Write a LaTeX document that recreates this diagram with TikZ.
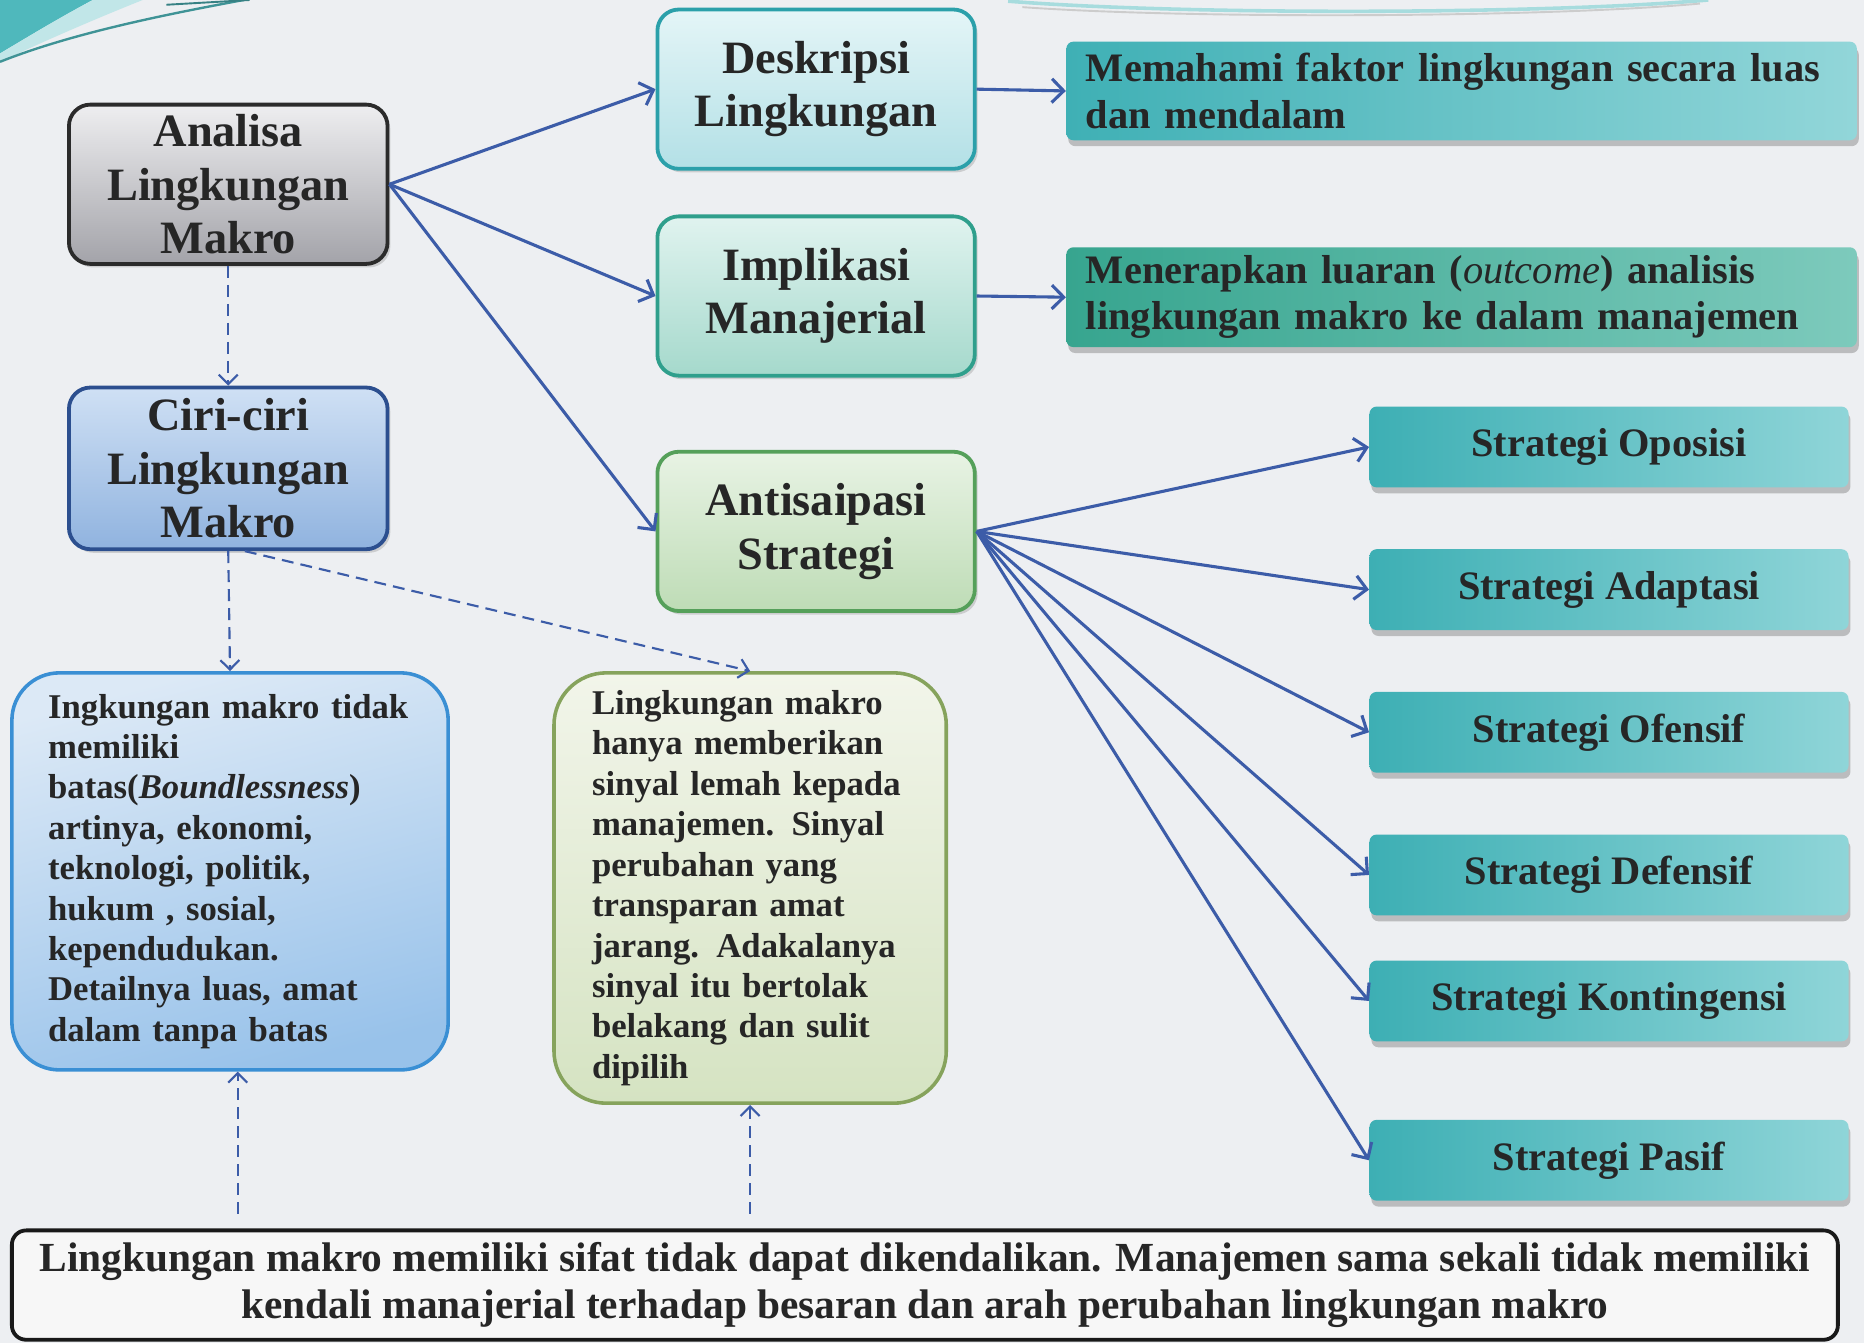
\documentclass[tikz,border=0pt]{standalone}
\usepackage{fontspec}
\setmainfont{Liberation Serif}
\usetikzlibrary{arrows.meta,shadows,calc}
\definecolor{bgc}{HTML}{EDEFF2}
\definecolor{txt}{HTML}{262626}
\definecolor{arrc}{HTML}{3C5CA8}
\definecolor{tealdeco}{HTML}{4FB8BC}
\definecolor{anaT}{HTML}{EEEEF0}\definecolor{anaB}{HTML}{A3A3A9}\definecolor{anaD}{HTML}{2B2B2B}
\definecolor{ciriT}{HTML}{CFE0F4}\definecolor{ciriB}{HTML}{90B3DF}\definecolor{ciriD}{HTML}{2C4F8F}
\definecolor{deskT}{HTML}{E4F5F7}\definecolor{deskB}{HTML}{B3E0E6}\definecolor{deskD}{HTML}{2BA0AA}
\definecolor{implT}{HTML}{E0F3EF}\definecolor{implB}{HTML}{A5D9CC}\definecolor{implD}{HTML}{2F9F8C}
\definecolor{antiT}{HTML}{E8F3E4}\definecolor{antiB}{HTML}{BEDCB6}\definecolor{antiD}{HTML}{55A05A}
\definecolor{ingT}{HTML}{DCE9F6}\definecolor{ingB}{HTML}{98C2EA}\definecolor{ingD}{HTML}{3A8FD4}
\definecolor{lmT}{HTML}{F2F5EA}\definecolor{lmB}{HTML}{D5E3C2}\definecolor{lmD}{HTML}{86A35C}
\definecolor{memL}{HTML}{3FB0B5}\definecolor{memR}{HTML}{92D6D9}
\definecolor{menL}{HTML}{37A58F}\definecolor{menR}{HTML}{7DCABC}
\definecolor{stL}{HTML}{3DAFB4}\definecolor{stR}{HTML}{8FD5D8}
\begin{document}
\begin{tikzpicture}[x=0.5pt,y=-0.5pt,
  mainbox/.style={rounded corners=9pt, line width=1.6pt, minimum width=134pt, minimum height=67pt,
    inner sep=0pt, align=center, text=txt, font=\bfseries\fontsize{19.5}{22.5}\selectfont,
    drop shadow={shadow xshift=1.2pt, shadow yshift=-1.5pt, opacity=0.3}},
  banner/.style={rounded corners=3pt, inner sep=0pt, text=txt,
    drop shadow={shadow xshift=0.8pt, shadow yshift=-2.5pt, opacity=0.45}},
  strat/.style={banner, minimum width=201.5pt, minimum height=34pt, left color=stL, right color=stR,
    font=\bfseries\fontsize{17}{20}\selectfont},
  note/.style={rounded corners=20pt, line width=1.5pt, inner sep=0pt, align=left, text=txt,
    font=\bfseries\fontsize{14.6}{17}\selectfont},
  arr/.style={draw=arrc, line width=1.3pt, -{Straight Barb[length=5pt,width=10pt]}},
  darr/.style={draw=arrc, line width=0.9pt, dash pattern=on 5pt off 3pt, -{Straight Barb[length=4pt,width=8pt]}}
]
\useasboundingbox (0,0) rectangle (1568,1129.7);
\fill[bgc] (0,0) rectangle (1568,1129.7);
% decoration
\fill[tealdeco] (0,0) -- (78,0) .. controls (50,15) and (25,30) .. (0,45) -- cycle;
\fill[tealdeco!35] (78,0) -- (120,0) .. controls (70,20) and (30,38) .. (0,52) -- (0,45) .. controls (25,30) and (50,15) .. (78,0) -- cycle;
\draw[tealdeco!80!black, line width=1pt] (0,52) .. controls (60,28) and (140,12) .. (205,0);
\draw[tealdeco!70!black, line width=0.8pt] (140,4) -- (210,0);
\draw[tealdeco!50, line width=1.5pt] (848,1) .. controls (1000,13) and (1300,12) .. (1437,0);
\draw[gray!40, line width=0.8pt] (860,6) .. controls (1000,16) and (1300,15) .. (1430,3);

% main boxes
\node[mainbox, draw=anaD, top color=anaT, bottom color=anaB] (ana) at (192,155) {Analisa\\Lingkungan\\Makro};
\node[mainbox, draw=ciriD, top color=ciriT, bottom color=ciriB, minimum height=68pt] (ciri) at (192,394) {Ciri-ciri\\Lingkungan\\Makro};
\node[mainbox, draw=deskD, top color=deskT, bottom color=deskB, minimum width=133.5pt] (desk) at (686.5,75) {Deskripsi\\Lingkungan};
\node[mainbox, draw=implD, top color=implT, bottom color=implB, minimum width=133.5pt] (impl) at (686.5,249) {Implikasi\\Manajerial};
\node[mainbox, draw=antiD, top color=antiT, bottom color=antiB, minimum width=133.5pt] (anti) at (686.5,447) {Antisaipasi\\Strategi};

% banners
\node[banner, left color=memL, right color=memR, minimum width=332.5pt, minimum height=41.5pt,
  text width=316pt, align=left, font=\bfseries\fontsize{17}{19.5}\selectfont] (mem) at (1229.5,76.5)
  {Memahami faktor lingkungan secara luas\\dan mendalam};
\node[banner, left color=menL, right color=menR, minimum width=332.5pt, minimum height=42pt,
  text width=316pt, align=left, font=\bfseries\fontsize{17}{19.5}\selectfont] (men) at (1229.5,250)
  {Menerapkan luaran ({\mdseries\itshape outcome}) analisis\\lingkungan makro ke dalam manajemen};

% strategies
\node[strat] (s1) at (1353.5,376) {Strategi Oposisi};
\node[strat] (s2) at (1353.5,496) {Strategi Adaptasi};
\node[strat] (s3) at (1353.5,616) {Strategi Ofensif};
\node[strat] (s4) at (1353.5,736) {Strategi Defensif};
\node[strat] (s5) at (1353.5,842) {Strategi Kontingensi};
\node[strat] (s6) at (1353.5,976) {Strategi Pasif};

% notes
\node[note, draw=ingD, top color=ingT, bottom color=ingB, shading angle=15,
  minimum width=183.5pt, minimum height=167pt, text width=153pt] (ing) at (193.5,733)
  {Ingkungan makro tidak\\memiliki\\batas(\textit{Boundlessness})\\artinya, ekonomi,\\teknologi, politik,\\hukum , sosial,\\kependudukan.\\Detailnya luas, amat\\dalam tanpa batas};
\node[note, draw=lmD, top color=lmT, bottom color=lmB, rounded corners=22pt,
  minimum width=165pt, minimum height=181pt, text width=133pt] (lm) at (631,747)
  {Lingkungan makro\\hanya memberikan\\sinyal lemah kepada\\manajemen. Sinyal\\perubahan yang\\transparan amat\\jarang. Adakalanya\\sinyal itu bertolak\\belakang dan sulit\\dipilih};

% bottom
\node[draw=black!90, line width=1.6pt, fill=white!97!black, rounded corners=6pt, inner sep=0pt,
  minimum width=768pt, minimum height=46pt, align=center, text=txt,
  font=\bfseries\fontsize{17.4}{20}\selectfont] (bot) at (778,1081)
  {Lingkungan makro memiliki sifat tidak dapat dikendalikan. Manajemen sama sekali tidak memiliki\\kendali manajerial terhadap besaran dan arah perubahan lingkungan makro};

% connectors
\draw[arr] (ana.east) -- (desk.west);
\draw[arr] (ana.east) -- (impl.west);
\draw[arr] (ana.east) -- (anti.west);
\draw[arr] (desk.east) -- (mem.west);
\draw[arr] (impl.east) -- (men.west);
\foreach \s in {s1,s2,s3,s4,s5,s6} \draw[arr] (anti.east) -- (\s.west);

\draw[darr] (ana.south) -- (ciri.north);
\draw[darr] (ciri.south) -- (ing.north);
\coordinate (c2) at ($(ciri.south)+(14,0)$);
\draw[darr] (c2) -- (lm.north);
\coordinate (b1) at (200,1021);
\coordinate (b2) at (631,1021);
\draw[darr] (b1) -- (b1 |- ing.south);
\draw[darr] (b2) -- (lm.south);
\end{tikzpicture}
\end{document}
